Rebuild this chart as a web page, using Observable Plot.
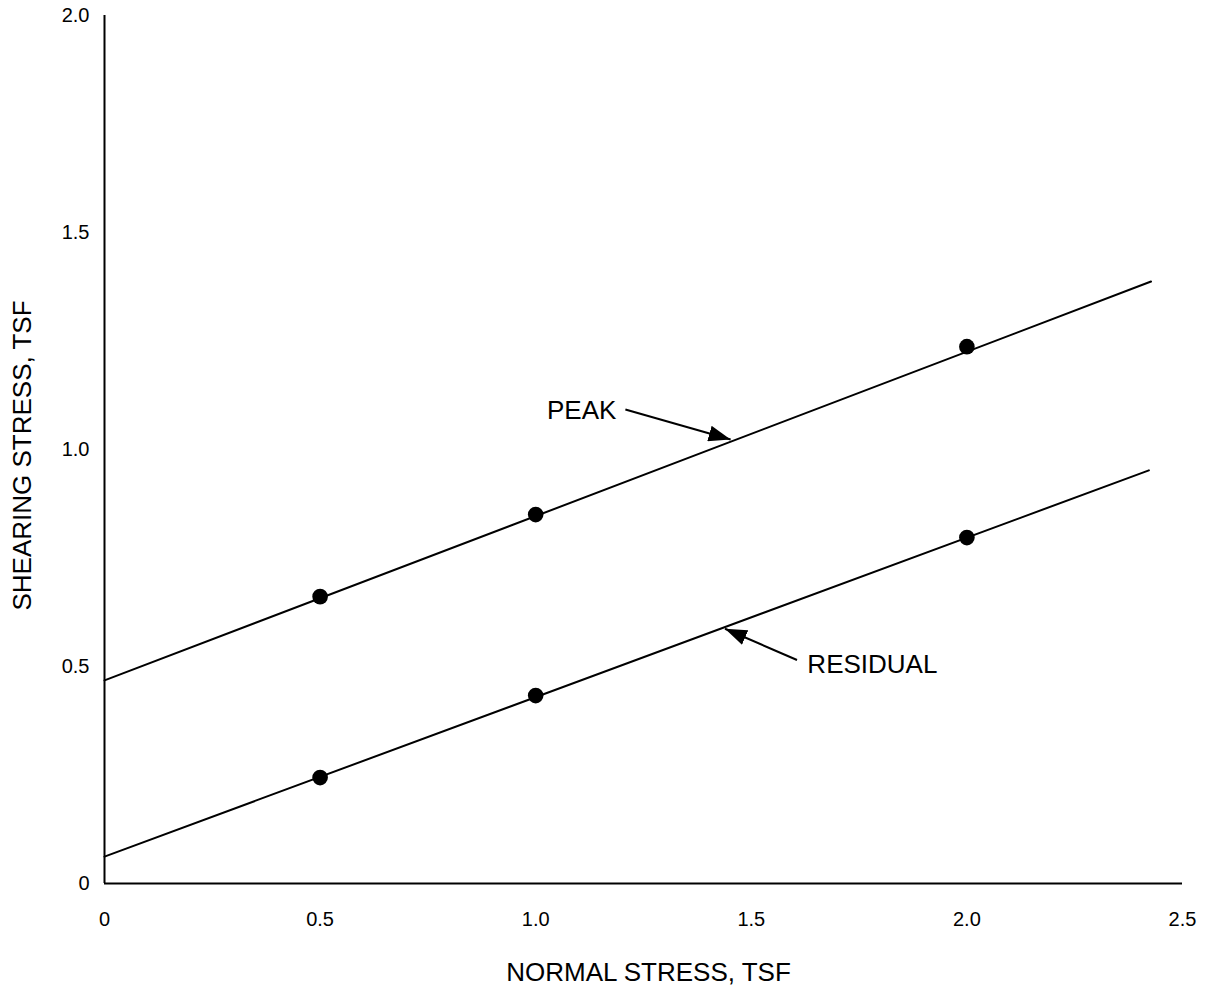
<!DOCTYPE html>
<html>
<head>
<meta charset="utf-8">
<script src="https://cdn.jsdelivr.net/npm/d3@7"></script>
<script src="https://cdn.jsdelivr.net/npm/@observablehq/plot@0.6"></script>
<style>
  html, body { margin: 0; padding: 0; background: #fff; }
  #chart { width: 1210px; height: 991px; }
  #chart svg g[aria-label*="axis"] text { font-size: 20px; fill: #000; }
</style>
</head>
<body>
<div id="chart"></div>
<script>
// ---- data ----
const normalStress = [0.5, 1.0, 2.0];
const peakShear = [0.661, 0.850, 1.237];
const residualShear = [0.244, 0.433, 0.797];

const peakLineX = [0, 2.427];
const peakLineY = [0.468, 1.387];
const residualLineX = [0, 2.422];
const residualLineY = [0.062, 0.952];

const xTicks = [0, 0.5, 1.0, 1.5, 2.0, 2.5];
const yTicks = [0, 0.5, 1.0, 1.5, 2.0];

const labelText = ["PEAK", "RESIDUAL"];
const labelX = [1.187, 1.630];
const labelY = [1.090, 0.505];
const labelAnchor = ["end", "start"];
const arrowX1 = [1.208, 1.606];
const arrowY1 = [1.092, 0.515];
const arrowX2 = [1.452, 1.439];
const arrowY2 = [1.023, 0.587];

const xTitle = "NORMAL STRESS, TSF";
const yTitle = "SHEARING STRESS, TSF";

// ---- tables built from the arrays ----
const points = normalStress.flatMap((x, i) => [
  {x, y: peakShear[i], s: "peak"},
  {x, y: residualShear[i], s: "residual"}
]);
const fitLines = [
  ...peakLineX.map((x, i) => ({x, y: peakLineY[i], s: "peak"})),
  ...residualLineX.map((x, i) => ({x, y: residualLineY[i], s: "residual"}))
];
const labels = labelText.map((t, i) => ({t, x: labelX[i], y: labelY[i], a: labelAnchor[i]}));
const arrows = arrowX1.map((x1, i) => ({x1, y1: arrowY1[i], x2: arrowX2[i], y2: arrowY2[i]}));
const fmt = d => d === 0 ? "0" : d.toFixed(1);

const font = "'Liberation Sans', Arial, Helvetica, sans-serif";

const plot = Plot.plot({
  width: 1210,
  height: 991,
  marginLeft: 104,
  marginRight: 28,
  marginTop: 15,
  marginBottom: 108,
  style: {fontSize: "20px", fontFamily: font, color: "#000", background: "#fff"},
  x: {domain: [0, 2.5], ticks: xTicks, tickFormat: fmt, tickSize: 0, tickPadding: 28, label: null},
  y: {domain: [0, 2.0], ticks: yTicks, tickFormat: fmt, tickSize: 0, tickPadding: 15, label: null},
  marks: [
    Plot.ruleX([0], {stroke: "#000", strokeWidth: 2}),
    Plot.ruleY([0], {stroke: "#000", strokeWidth: 2}),
    Plot.line(fitLines.filter(d => d.s === "peak"), {x: "x", y: "y", stroke: "#000", strokeWidth: 2}),
    Plot.line(fitLines.filter(d => d.s === "residual"), {x: "x", y: "y", stroke: "#000", strokeWidth: 2}),
    Plot.dot(points, {x: "x", y: "y", r: 7.8, fill: "#000", stroke: "none"}),
    Plot.link(arrows, {x1: "x1", y1: "y1", x2: "x2", y2: "y2", stroke: "#000", strokeWidth: 2, markerEnd: "arrow"}),
    Plot.text(labels.filter(d => d.a === "end"), {x: "x", y: "y", text: "t", textAnchor: "end", fontSize: 26, fill: "#000"}),
    Plot.text(labels.filter(d => d.a === "start"), {x: "x", y: "y", text: "t", textAnchor: "start", fontSize: 26, fill: "#000"}),
    Plot.text([xTitle], {frameAnchor: "bottom", textAnchor: "middle", lineAnchor: "middle", dy: 89, dx: 5, fontSize: 26, fill: "#000"}),
    Plot.text([yTitle], {frameAnchor: "left", textAnchor: "middle", lineAnchor: "middle", rotate: -90, dx: -82, dy: 6, fontSize: 26, fill: "#000"})
  ]
});

// make arrowheads solid filled triangles
d3.select(plot).selectAll("marker").each(function() {
  const m = d3.select(this);
  m.attr("viewBox", "-22 -8 22 16")
   .attr("markerUnits", "userSpaceOnUse")
   .attr("markerWidth", 22)
   .attr("markerHeight", 16)
   .attr("refX", 0).attr("refY", 0)
   .attr("fill", "#000").attr("stroke", "none");
  m.selectAll("path").attr("d", "M-22,-8L0,0L-22,8Z").attr("fill", "#000").attr("stroke", "none");
});

document.getElementById("chart").appendChild(plot);
</script>
</body>
</html>
